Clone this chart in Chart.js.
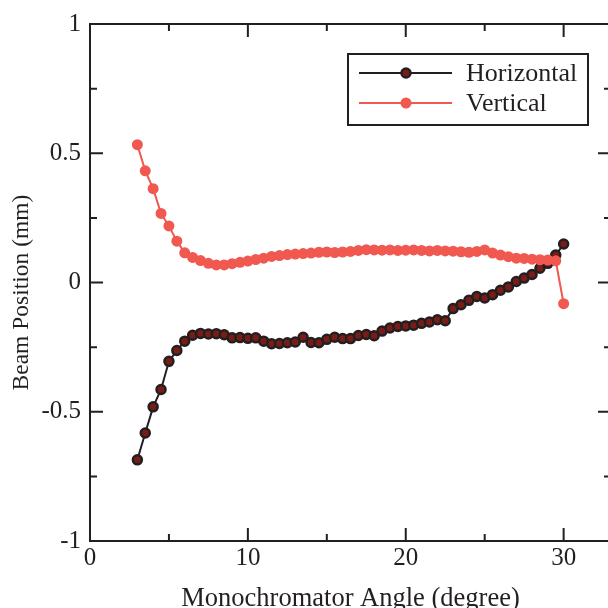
<!DOCTYPE html>
<html>
<head>
<meta charset="utf-8">
<script src="https://cdn.jsdelivr.net/npm/chart.js@4/dist/chart.umd.min.js"></script>
<style>
  html, body { margin: 0; padding: 0; background: #fff; overflow: hidden; }
  #wrap { width: 620px; height: 608px; }
</style>
</head>
<body>
<div id="wrap"><canvas id="beam-chart" width="620" height="608"></canvas></div>
<script>
// monochromator angle (degree)
var angles = [3, 3.5, 4, 4.5, 5, 5.5, 6, 6.5, 7, 7.5, 8, 8.5, 9, 9.5, 10, 10.5, 11, 11.5, 12, 12.5,
  13, 13.5, 14, 14.5, 15, 15.5, 16, 16.5, 17, 17.5, 18, 18.5, 19, 19.5, 20, 20.5, 21, 21.5, 22, 22.5,
  23, 23.5, 24, 24.5, 25, 25.5, 26, 26.5, 27, 27.5, 28, 28.5, 29, 29.5, 30];

// beam position (mm)
var horizontal = [-0.686, -0.582, -0.481, -0.414, -0.305, -0.263, -0.227, -0.204, -0.197, -0.199,
  -0.198, -0.202, -0.214, -0.213, -0.216, -0.214, -0.227, -0.237, -0.236, -0.233,
  -0.230, -0.212, -0.232, -0.233, -0.220, -0.212, -0.217, -0.217, -0.205, -0.201,
  -0.206, -0.188, -0.176, -0.170, -0.168, -0.165, -0.158, -0.153, -0.144, -0.148,
  -0.101, -0.086, -0.069, -0.054, -0.060, -0.047, -0.030, -0.017, 0.004, 0.017,
  0.031, 0.055, 0.074, 0.106, 0.149];

var vertical = [0.533, 0.432, 0.363, 0.267, 0.219, 0.160, 0.115, 0.097, 0.085, 0.074,
  0.068, 0.068, 0.073, 0.078, 0.083, 0.089, 0.094, 0.101, 0.104, 0.108,
  0.110, 0.112, 0.114, 0.117, 0.118, 0.116, 0.118, 0.120, 0.124, 0.127,
  0.126, 0.125, 0.126, 0.124, 0.125, 0.126, 0.124, 0.122, 0.124, 0.122,
  0.121, 0.119, 0.117, 0.120, 0.126, 0.114, 0.106, 0.100, 0.094, 0.093,
  0.090, 0.088, 0.087, 0.084, -0.082];

var x_ticks = [0, 10, 20, 30];
var x_minor = [5, 15, 25];
var y_ticks = [-1, -0.5, 0, 0.5, 1];
var y_minor = [-0.75, -0.25, 0.25, 0.75];

var ink = '#231f20';
var red = 'rgb(240, 88, 80)';
var serif = "'Liberation Serif', 'Times New Roman', serif";

function toPoints(ys) {
  return angles.map(function (a, i) { return { x: a, y: ys[i] }; });
}

// box, inward ticks on all four sides
const frame_plugin = {
  id: 'frame',
  afterDatasetsDraw(chart) {
    const ctx = chart.ctx, a = chart.chartArea;
    const xs = chart.scales.x, ys = chart.scales.y;
    ctx.save();
    ctx.strokeStyle = ink;
    ctx.lineWidth = 2;
    ctx.strokeRect(a.left, a.top, a.right - a.left, a.bottom - a.top);
    function xt(v, len) {
      const p = xs.getPixelForValue(v);
      ctx.beginPath();
      ctx.moveTo(p, a.bottom); ctx.lineTo(p, a.bottom - len);
      ctx.moveTo(p, a.top); ctx.lineTo(p, a.top + len);
      ctx.stroke();
    }
    function yt(v, len) {
      const p = ys.getPixelForValue(v);
      ctx.beginPath();
      ctx.moveTo(a.left, p); ctx.lineTo(a.left + len, p);
      ctx.moveTo(a.right, p); ctx.lineTo(a.right - len, p);
      ctx.stroke();
    }
    x_ticks.forEach(v => xt(v, 13));
    x_minor.forEach(v => xt(v, 7));
    y_ticks.forEach(v => yt(v, 13));
    y_minor.forEach(v => yt(v, 7));

    // y axis title, a little below the middle as in the original
    ctx.translate(22, (a.top + a.bottom) / 2 + 10);
    ctx.rotate(-Math.PI / 2);
    ctx.fillStyle = ink;
    ctx.font = '23.5px ' + serif;
    ctx.textAlign = 'center';
    ctx.textBaseline = 'middle';
    ctx.fillText('Beam Position (mm)', 0, 0);
    ctx.restore();
  }
};

// boxed legend in the upper right
const legend_plugin = {
  id: 'boxLegend',
  afterDraw(chart) {
    const ctx = chart.ctx;
    ctx.save();
    ctx.fillStyle = '#fff';
    ctx.fillRect(348, 54, 240, 71);
    ctx.strokeStyle = ink;
    ctx.lineWidth = 2;
    ctx.strokeRect(348, 54, 240, 71);
    const rows = [73, 103];
    chart.data.datasets.forEach(function (ds, i) {
      const y = rows[i];
      ctx.strokeStyle = ds.borderColor;
      ctx.lineWidth = 2;
      ctx.beginPath(); ctx.moveTo(359, y); ctx.lineTo(452, y); ctx.stroke();
      ctx.beginPath();
      ctx.arc(406, y, ds.pointRadius, 0, Math.PI * 2);
      ctx.fillStyle = ds.pointBackgroundColor;
      ctx.fill();
      if (ds.pointBorderWidth > 0) {
        ctx.lineWidth = ds.pointBorderWidth;
        ctx.strokeStyle = ds.pointBorderColor;
        ctx.stroke();
      }
      ctx.fillStyle = ink;
      ctx.font = '26px ' + serif;
      ctx.textBaseline = 'middle';
      ctx.textAlign = 'left';
      ctx.fillText(ds.label, 466, y + 1);
    });
    ctx.restore();
  }
};

const data_beam = {
  datasets: [{
    label: 'Horizontal',
    data: toPoints(horizontal),
    borderColor: ink,
    borderWidth: 2,
    pointRadius: 4.5,
    pointBorderWidth: 2.5,
    pointBorderColor: ink,
    pointBackgroundColor: 'rgb(122, 28, 22)',
    tension: 0,
    order: 1
  }, {
    label: 'Vertical',
    data: toPoints(vertical),
    borderColor: red,
    borderWidth: 2,
    pointRadius: 5.5,
    pointBorderWidth: 0,
    pointBorderColor: red,
    pointBackgroundColor: red,
    tension: 0,
    order: 0
  }]
};

const config_beam = {
  type: 'scatter',
  data: data_beam,
  plugins: [frame_plugin, legend_plugin],
  options: {
    responsive: false,
    animation: false,
    showLine: true,
    layout: { padding: { top: 22, right: 9, left: 0, bottom: 0 } },
    plugins: { legend: { display: false }, tooltip: { enabled: false } },
    scales: {
      x: {
        type: 'linear', min: 0, max: 33,
        grid: { display: false, drawTicks: false },
        border: { display: false },
        afterBuildTicks: s => { s.ticks = x_ticks.map(v => ({ value: v })); },
        afterFit: s => { s.height = 67; },
        ticks: { color: ink, padding: 2, maxRotation: 0, font: { family: serif, size: 25 },
          callback: v => String(v) },
        title: { display: true, text: 'Monochromator Angle (degree)', color: ink,
          padding: { top: 0, bottom: -4 }, font: { family: serif, size: 26.5, lineHeight: 1 } }
      },
      y: {
        type: 'linear', min: -1, max: 1,
        grid: { display: false, drawTicks: false },
        border: { display: false },
        afterBuildTicks: s => { s.ticks = y_ticks.map(v => ({ value: v })); },
        afterFit: s => { s.width = 90; },
        ticks: { color: ink, padding: 9, font: { family: serif, size: 25 },
          callback: v => String(v) },
        title: { display: false }
      }
    }
  }
};

const beam_chart = new Chart(document.getElementById('beam-chart'), config_beam);
</script>
</body>
</html>
